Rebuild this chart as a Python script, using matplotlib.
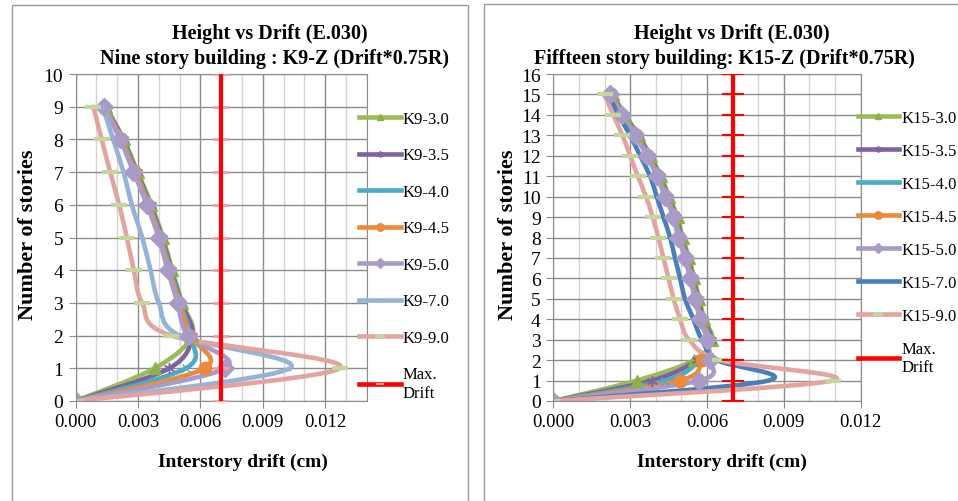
import numpy as np
import matplotlib
matplotlib.use("Agg")
import matplotlib.pyplot as plt
from matplotlib.path import Path
from matplotlib.patches import PathPatch, Rectangle
from matplotlib.lines import Line2D
from matplotlib.ticker import MultipleLocator, FormatStrFormatter

plt.rcParams['font.family'] = ['Liberation Serif', 'DejaVu Serif']

# Nine story building (floor 0..9), interstory drift
floors9 = list(range(10))
k9_30 = [0, 0.0038, 0.0056, 0.00512, 0.00465, 0.0042, 0.00364, 0.00298, 0.00231, 0.00145]
k9_35 = [0, 0.0045, 0.0056, 0.00508, 0.0046, 0.00415, 0.0036, 0.00294, 0.00228, 0.00143]
k9_40 = [0, 0.0053, 0.0055, 0.00503, 0.00456, 0.0041, 0.00355, 0.0029, 0.00224, 0.0014]
k9_45 = [0, 0.0062, 0.0055, 0.00497, 0.0045, 0.00405, 0.0035, 0.00285, 0.0022, 0.00138]
k9_50 = [0, 0.0072, 0.0054, 0.0049, 0.00443, 0.00399, 0.00343, 0.00278, 0.00214, 0.00134]
k9_70 = [0, 0.0103, 0.0050, 0.0040, 0.0036, 0.0032, 0.0027, 0.0023, 0.0018, 0.0013]
k9_90 = [0, 0.0127, 0.0046, 0.0032, 0.0028, 0.00246, 0.00209, 0.00166, 0.00125, 0.00085]
labels9 = ['K9-3.0', 'K9-3.5', 'K9-4.0', 'K9-4.5', 'K9-5.0', 'K9-7.0', 'K9-9.0']

# Fifteen story building (floor 0..15)
floors15 = list(range(16))
k15_30 = [0, 0.00326, 0.0055, 0.0062, 0.0059, 0.0057, 0.0055, 0.0053, 0.00505, 0.00485, 0.00452, 0.0042, 0.0038, 0.00334, 0.0028, 0.00232]
k15_35 = [0, 0.00384, 0.0056, 0.00615, 0.00585, 0.00565, 0.00546, 0.00526, 0.005, 0.0048, 0.00448, 0.00416, 0.00376, 0.0033, 0.00277, 0.0023]
k15_40 = [0, 0.00436, 0.0057, 0.0061, 0.0058, 0.0056, 0.00542, 0.00522, 0.00496, 0.00476, 0.00444, 0.00412, 0.00372, 0.00326, 0.00274, 0.00228]
k15_45 = [0, 0.00495, 0.0058, 0.00605, 0.00577, 0.00557, 0.00538, 0.00518, 0.00492, 0.00472, 0.0044, 0.00408, 0.00368, 0.00322, 0.0027, 0.00225]
k15_50 = [0, 0.0057, 0.0061, 0.0060, 0.00573, 0.00553, 0.00534, 0.00514, 0.00488, 0.00469, 0.00436, 0.00404, 0.00365, 0.00319, 0.00267, 0.00222]
k15_70 = [0, 0.0084, 0.0064, 0.0058, 0.00547, 0.00514, 0.00495, 0.00475, 0.00456, 0.0043, 0.00404, 0.00378, 0.00339, 0.003, 0.00254, 0.00215]
k15_90 = [0, 0.0109, 0.0065, 0.0053, 0.00495, 0.0047, 0.0045, 0.0043, 0.0041, 0.00388, 0.00362, 0.0033, 0.003, 0.0027, 0.00234, 0.002]
labels15 = ['K15-3.0', 'K15-3.5', 'K15-4.0', 'K15-4.5', 'K15-5.0', 'K15-7.0', 'K15-9.0']

max_drift = 0.007
max_floors9 = list(range(11))
max_floors15 = list(range(17))


def smooth_path(xs, ys):
    """Excel-like smoothed line: cubic bezier through every point."""
    pts = np.column_stack([xs, ys]).astype(float)
    n = len(pts)
    verts = [pts[0]]
    codes = [Path.MOVETO]
    for i in range(n - 1):
        p0 = pts[max(i - 1, 0)]
        p1 = pts[i]
        p2 = pts[i + 1]
        p3 = pts[min(i + 2, n - 1)]
        verts += [p1 + (p2 - p0) / 6, p2 - (p3 - p1) / 6, p2]
        codes += [Path.CURVE4] * 3
    return Path(verts, codes)


def draw_panel(ax, floors, series, styles, max_floors, ymax, xmax, max_style):
    handles = []
    for xs, st in zip(series, styles):
        ax.add_patch(PathPatch(smooth_path(xs, floors), fill=False, edgecolor=st['color'],
                               lw=3.3, capstyle='round', joinstyle='round'))
        if st['marker']:
            ax.plot(xs, floors, ls='none', marker=st['marker'], ms=st['ms'],
                    color=st['mcolor'], mec=st['mcolor'], mew=st['mew'])
        handles.append(Line2D([], [], color=st['color'], lw=3.3, marker=st['marker'] or None,
                              ms=st['ms'] * 0.6, mfc=st['mcolor'], mec=st['mcolor'], mew=st['mew']))

    mx = [max_drift] * len(max_floors)
    ax.plot(mx, max_floors, ls='none', marker='_', ms=max_style['ms'], color=max_style['mcolor'],
            mew=max_style['mew'], zorder=4)
    ax.plot(mx, max_floors, color='#FF0000', lw=3, zorder=5, solid_capstyle='butt')
    handles.append(Line2D([], [], color='#FF0000', lw=3.3, marker='_', ms=6,
                          mec=max_style['mcolor'], mew=1.5))

    ax.set_xlim(0, xmax)
    ax.set_ylim(0, ymax)
    ax.xaxis.set_major_locator(MultipleLocator(0.003))
    ax.xaxis.set_minor_locator(MultipleLocator(0.001))
    ax.xaxis.set_major_formatter(FormatStrFormatter('%.3f'))
    ax.yaxis.set_major_locator(MultipleLocator(1))
    ax.grid(which='minor', axis='x', color='#D4D4D4', lw=1)
    ax.grid(which='major', axis='both', color='#8C8C8C', lw=1)
    ax.set_axisbelow(True)
    for s in ax.spines.values():
        s.set_color('#8C8C8C')
    ax.tick_params(which='major', length=5, color='#8C8C8C', labelsize=13.5, pad=4)
    ax.tick_params(which='minor', length=0)
    ax.tick_params(axis='y', labelsize=14)
    return handles


fig = plt.figure(figsize=(9.58, 5.02), dpi=100)

# panel frames
fig.add_artist(Rectangle((12 / 958, -0.01), 456 / 958, 1 - 5.5 / 502 + 0.01, transform=fig.transFigure,
                         fill=False, edgecolor='#9A9A9A', lw=1))
fig.add_artist(Rectangle((484.5 / 958, -0.01), 480 / 958, 1 - 5 / 502 + 0.01, transform=fig.transFigure,
                         fill=False, edgecolor='#9A9A9A', lw=1))

ax1 = fig.add_axes([75.7 / 958, 100 / 502, 291 / 958, 327 / 502])
ax2 = fig.add_axes([553.3 / 958, 100 / 502, 307.4 / 958, 327 / 502])

dash = '#C4D79B'
styles9 = [
    dict(color='#9BBB59', marker='^', ms=8, mcolor='#8DB04B', mew=1),
    dict(color='#7F62A0', marker=(6, 2, 0), ms=8, mcolor='#7F62A0', mew=1),
    dict(color='#4BACC6', marker='x', ms=6, mcolor='#4BACC6', mew=1),
    dict(color='#EC8A3C', marker='o', ms=9, mcolor='#EC8A3C', mew=1),
    dict(color='#A99BC7', marker='D', ms=9, mcolor='#A99BC7', mew=1),
    dict(color='#95B3D7', marker='|', ms=5, mcolor='#95B3D7', mew=1),
    dict(color='#E3A3A1', marker='_', ms=12, mcolor=dash, mew=3),
]
styles15 = [dict(s) for s in styles9]
styles15[5] = dict(color='#4A7EBB', marker='', ms=5, mcolor='#4A7EBB', mew=1)

h1 = draw_panel(ax1, floors9, [k9_30, k9_35, k9_40, k9_45, k9_50, k9_70, k9_90],
                styles9, max_floors9, 10, 0.014, dict(ms=12, mcolor='#F4A0A0', mew=2))
h2 = draw_panel(ax2, floors15, [k15_30, k15_35, k15_40, k15_45, k15_50, k15_70, k15_90],
                styles15, max_floors15, 16, 0.012, dict(ms=16, mcolor='#FF0000', mew=1.5))

leg_kw = dict(loc='upper left', frameon=False, fontsize=12, borderaxespad=0, borderpad=0,
              handlelength=2.5, handletextpad=0.12)
ax1.legend(h1, labels9 + ['Max.\nDrift'], bbox_to_anchor=(0.9735, 0.887), labelspacing=1.23, **leg_kw)
ax2.legend(h2, labels15 + ['Max.\nDrift'], bbox_to_anchor=(0.99, 0.89), labelspacing=1.02, **leg_kw)

# titles and axis labels
fig.text(270 / 958, 1 - 34 / 502, 'Height vs Drift (E.030)', ha='center', va='center',
         fontsize=14.5, fontweight='bold')
fig.text(275 / 958, 1 - 59 / 502, 'Nine story building : K9-Z (Drift*0.75R)', ha='center', va='center',
         fontsize=14.5, fontweight='bold')
fig.text(732 / 958, 1 - 34 / 502, 'Height vs Drift (E.030)', ha='center', va='center',
         fontsize=14.5, fontweight='bold')
fig.text(724 / 958, 1 - 59 / 502, 'Fiffteen story building: K15-Z (Drift*0.75R)', ha='center',
         va='center', fontsize=14.5, fontweight='bold')

for xc in (243, 722):
    fig.text(xc / 958, 1 - 462 / 502, 'Interstory drift (cm)', ha='center', va='center',
             fontsize=14, fontweight='bold')
for xc in (28, 508):
    fig.text(xc / 958, 1 - 235 / 502, 'Number of stories', ha='center', va='center',
             rotation=90, fontsize=16, fontweight='bold')

fig.savefig('out.png', dpi=100)
